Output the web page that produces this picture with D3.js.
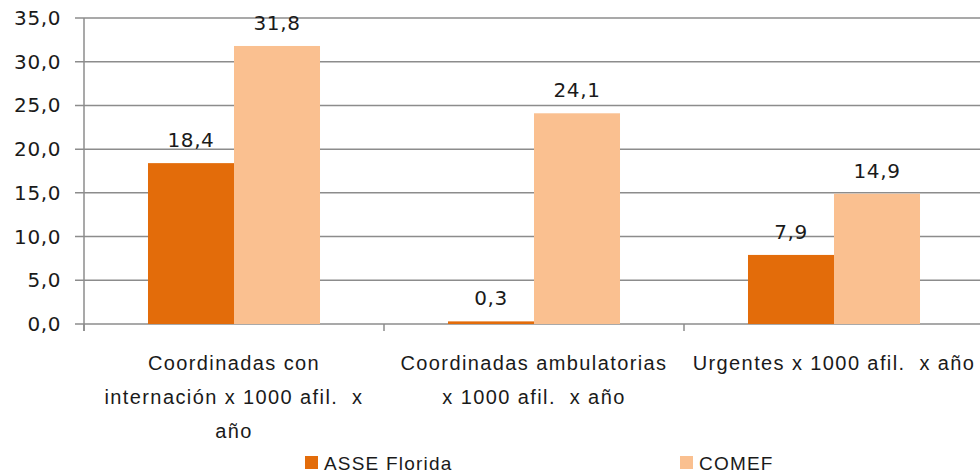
<!DOCTYPE html>
<html>
<head>
<meta charset="utf-8">
<script src="https://cdn.jsdelivr.net/npm/d3@7"></script>
<style>
body { margin: 0; background: #fff; }
svg text { fill: #1a1a1a; }
.tick-label { font-family: "DejaVu Sans", Verdana, sans-serif; font-size: 20px; letter-spacing: 0.6px; }
.val-label { font-family: "DejaVu Sans", Verdana, sans-serif; font-size: 20px; letter-spacing: 0.6px; }
.cat-label { font-family: "Liberation Sans", sans-serif; font-size: 20px; letter-spacing: 1.4px; white-space: pre; }
.leg-label { font-family: "Liberation Sans", sans-serif; font-size: 19px; letter-spacing: 1.2px; }
</style>
</head>
<body>
<svg id="chartsvg"></svg>
<script>
// categories (already split into lines as in the picture)
var categories = [
	["Coordinadas con", "internación x 1000 afil.  x", "año"],
	["Coordinadas ambulatorias", "x 1000 afil.  x año"],
	["Urgentes x 1000 afil.  x año"]
];
var series = ["ASSE Florida", "COMEF"];
var asseValues = [18.4, 0.3, 7.9];
var comefValues = [31.8, 24.1, 14.9];
var yTicks = [0, 5, 10, 15, 20, 25, 30, 35];
var colors = ["#E36C0A", "#FAC090"];

var width0 = 980, height0 = 474;
var margin = {top: 18, left: 84, bottom: 150};
var plotRight = 984;
var fmt = function(v) { return d3.format(".1f")(v).replace(".", ","); };

var svg = d3.select("#chartsvg").attr("width", width0).attr("height", height0);

var x = d3.scaleBand().domain(d3.range(categories.length)).range([margin.left, plotRight]);
var xs = d3.scaleBand().domain(series).range([0, x.bandwidth()]).paddingInner(0).paddingOuter(0.744);
var y = d3.scaleLinear().domain([0, 35]).range([height0 - margin.bottom, margin.top]);

//gridlines
svg.append("g").selectAll("line").data(yTicks).join("line")
	.attr("x1", 75).attr("x2", plotRight)
	.attr("y1", function(d) { return y(d); }).attr("y2", function(d) { return y(d); })
	.attr("stroke", "#8c8c8c").attr("stroke-width", 1.5);

//y tick labels
svg.append("g").selectAll("text").data(yTicks).join("text")
	.attr("class", "tick-label")
	.attr("x", 61).attr("y", function(d) { return y(d) + 7; })
	.attr("text-anchor", "end")
	.text(fmt);

//bars
var data = [];
categories.forEach(function(c, i) {
	data.push({cat: i, s: series[0], v: asseValues[i], col: colors[0]});
	data.push({cat: i, s: series[1], v: comefValues[i], col: colors[1]});
});
svg.append("g").selectAll("rect").data(data).join("rect")
	.attr("x", function(d) { return x(d.cat) + xs(d.s); })
	.attr("width", xs.bandwidth())
	.attr("y", function(d) { return y(d.v); })
	.attr("height", function(d) { return y(0) - y(d.v); })
	.attr("fill", function(d) { return d.col; });

//value labels
svg.append("g").selectAll("text").data(data).join("text")
	.attr("class", "val-label")
	.attr("x", function(d) { return x(d.cat) + xs(d.s) + xs.bandwidth() / 2; })
	.attr("y", function(d) { return y(d.v) - 16; })
	.attr("text-anchor", "middle")
	.text(function(d) { return fmt(d.v); });

//axes lines
svg.append("line").attr("x1", margin.left).attr("x2", margin.left)
	.attr("y1", y(35)).attr("y2", y(0) + 7)
	.attr("stroke", "#8c8c8c").attr("stroke-width", 1.5);
svg.append("g").selectAll("line").data(d3.range(categories.length + 1)).join("line")
	.attr("x1", function(d) { return margin.left + d * x.step(); })
	.attr("x2", function(d) { return margin.left + d * x.step(); })
	.attr("y1", y(0)).attr("y2", y(0) + 7)
	.attr("stroke", "#8c8c8c").attr("stroke-width", 1.5);

//category labels
var cl = svg.append("g").selectAll("text").data(categories).join("text")
	.attr("class", "cat-label")
	.attr("text-anchor", "middle")
	.attr("x", function(d, i) { return x(i) + x.bandwidth() / 2; })
	.attr("y", 370);
cl.selectAll("tspan").data(function(d) { return d; }).join("tspan")
	.attr("x", function() { return d3.select(this.parentNode).attr("x"); })
	.attr("dy", function(d, i) { return i ? 34 : 0; })
	.text(function(d) { return d; });

//legend
var legX = [305, 680];
var leg = svg.append("g").selectAll("g").data(series).join("g")
	.attr("transform", function(d, i) { return "translate(" + legX[i] + ",456)"; });
leg.append("rect").attr("width", 13).attr("height", 13).attr("fill", function(d, i) { return colors[i]; });
leg.append("text").attr("class", "leg-label").attr("x", 19).attr("y", 14).text(function(d) { return d; });
</script>
</body>
</html>
